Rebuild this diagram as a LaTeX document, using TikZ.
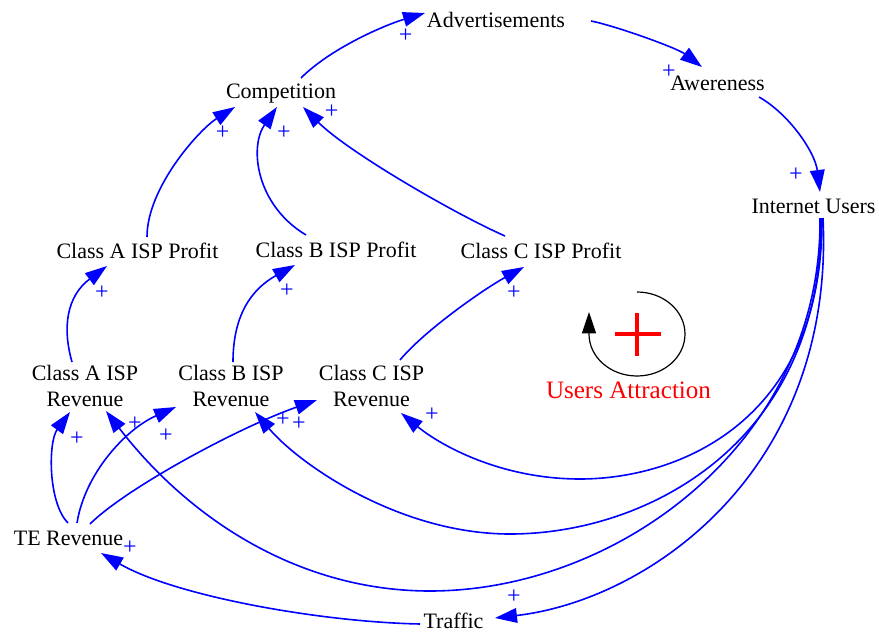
\documentclass[tikz,border=0pt]{standalone}
\usepackage{fontspec}
\setmainfont{Liberation Serif}
\usetikzlibrary{arrows.meta}
\begin{document}
\begin{tikzpicture}[x=0.75pt,y=-0.75pt,
  lbl/.style={inner sep=0pt, font=\fontsize{16.5}{18.8}\selectfont, text=black},
  two/.style={lbl, align=center},
  link/.style={draw=blue, line width=1.2pt, -{Triangle[length=16.5pt,width=11pt]}},
  pol/.style={inner sep=0pt, text=blue, font=\fontsize{18}{18}\selectfont},
  loopline/.style={draw=black, line width=0.9pt, -{Triangle[length=16pt,width=10.5pt]}},
]
\useasboundingbox (0,0) rectangle (879,632);

% variables
\node[lbl, anchor=base] (adv)  at (496,27)    {Advertisements};
\node[lbl, anchor=base] (comp) at (281,98)    {Competition};
\node[lbl, anchor=base] (awe)  at (717.5,90)  {Awereness};
\node[lbl, anchor=base] (iu)   at (813.5,213) {Internet Users};
\node[lbl, anchor=base] (pA)   at (137.5,258) {Class A ISP Profit};
\node[lbl, anchor=base] (pB)   at (336,257)   {Class B ISP Profit};
\node[lbl, anchor=base] (pC)   at (541,258)   {Class C ISP Profit};
\node[two] (rA) at (85,386)    {Class A ISP\\Revenue};
\node[two] (rB) at (231,386)   {Class B ISP\\Revenue};
\node[two] (rC) at (371.5,386) {Class C ISP\\Revenue};
\node[lbl, anchor=base] (te)   at (68.5,545)  {TE Revenue};
\node[lbl, anchor=base] (tr)   at (453.5,628.5) {Traffic};

% loop identifier
\node[inner sep=0pt, text=red, font=\fontsize{18.8}{20}\selectfont, anchor=base] (ua) at (628.5,398) {Users Attraction};
\coordinate (lp) at (637,292);
\draw[loopline] (lp) arc[start angle=-90, end angle=180, x radius=48, y radius=42] -- ++(0,-22);
\draw[red, line width=2.5pt] (615,334) -- (661,334) (637,313) -- (637,356);

% causal links
\draw[link] ([shift={(20,-20)}]comp.base) .. controls +(30,-30) and +(-40,12) .. ([shift={(-71,-14)}]adv.base);
\draw[link] ([shift={(95,-6)}]adv.base) .. controls +(25,5) and +(-25,-19) .. ([shift={(-15.5,-23)}]awe.base);
\draw[link] ([shift={(41.5,7)}]awe.base) .. controls +(30,17) and +(-5,-40) .. ([shift={(6.5,-21)}]iu.base);

\draw[link] ([shift={(9.5,-21)}]pA.base) .. controls +(0,-50) and +(-35,22) .. ([shift={(-46,9)}]comp.base);
\draw[link] ([shift={(-30,-22)}]pB.base) .. controls +(-50,-30) and +(-28,40) .. ([shift={(-4,9)}]comp.base);
\draw[link] ([shift={(-36,-22)}]pC.base) .. controls +(-50,-22) and +(45,45) .. ([shift={(22,9)}]comp.base);

\draw[link] ([shift={(-13,-24)}]rA.center) .. controls +(-10,-35) and +(-40,30) .. ([shift={(-30.5,8)}]pA.base);
\draw[link] ([shift={(2,-24)}]rB.center) .. controls +(0,-45) and +(-45,25) .. ([shift={(-41,8)}]pB.base);
\draw[link] ([shift={(28.5,-26)}]rC.center) .. controls +(25,-30) and +(-40,22) .. ([shift={(-17,9)}]pC.base);

\draw[link] ([shift={(-0.5,-22)}]te.base) .. controls +(-20,-20) and +(-22,30) .. ([shift={(-15,26)}]rA.center);
\draw[link] ([shift={(8.5,-22)}]te.base) .. controls +(8,-50) and +(-50,22) .. ([shift={(-55,21)}]rB.center);
\draw[link] ([shift={(21.5,-21)}]te.base) .. controls +(35,-35) and +(-80,28) .. ([shift={(-54.5,14)}]rC.center);

\draw[link] ([shift={(6.5,5)}]iu.base) .. controls (822,440) and (620,591) .. (430,591)
  .. controls (300,591) and (190,520) .. ([shift={(21,25)}]rA.center);
\draw[link] ([shift={(7.5,5)}]iu.base) .. controls (823,440) and (650,534) .. (510,534)
  .. controls (400,534) and (300,465) .. ([shift={(24,26)}]rB.center);
\draw[link] ([shift={(8.5,5)}]iu.base) .. controls (823,420) and (680,479) .. (580,479)
  .. controls (500,479) and (440,445) .. ([shift={(29.5,27)}]rC.center);
\draw[link] ([shift={(9.5,5)}]iu.base) .. controls (835,470) and (650,600) .. ([shift={(41.5,-10.5)}]tr.base);
\draw[link] ([shift={(-33.5,-4.5)}]tr.base) .. controls +(-100,-2) and +(74,43) .. ([shift={(32.5,8)}]te.base);

% link polarities
\node[pol] (s1)  at (405.7,35.7) {+};
\node[pol] (s2)  at (669,72)     {+};
\node[pol] (s3)  at (796,175)    {+};
\node[pol] (s4)  at (222.7,133)  {+};
\node[pol] (s5)  at (284,133)    {+};
\node[pol] (s6)  at (331.7,111.7){+};
\node[pol] (s7)  at (102,293)    {+};
\node[pol] (s8)  at (287,291)    {+};
\node[pol] (s9)  at (514,293)    {+};
\node[pol] (s10) at (77,439)     {+};
\node[pol] (s11) at (166,436)    {+};
\node[pol] (s12) at (299,424)    {+};
\node[pol] (s13) at (135,424)    {+};
\node[pol] (s14) at (283,420)    {+};
\node[pol] (s15) at (432,415)    {+};
\node[pol] (s16) at (514,597)    {+};
\node[pol] (s17) at (130,548)    {+};
\end{tikzpicture}
\end{document}
